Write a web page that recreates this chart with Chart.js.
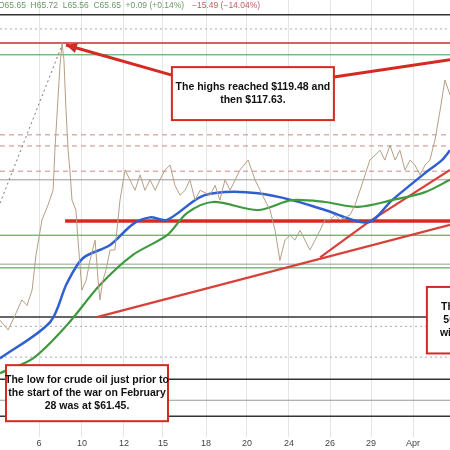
<!DOCTYPE html>
<html><head><meta charset="utf-8">
<script src="https://cdn.jsdelivr.net/npm/chart.js@4"></script>
<style>html,body{margin:0;padding:0;background:#fff}#wrap{width:450px;height:450px}</style>
</head><body><div id="wrap"><canvas id="c"></canvas></div>
<script>
// time axis in hourly-bar units, prices in USD
const tickPos = [13, 27.3, 41.3, 54.3, 68.7, 82.3, 96.3, 110, 123.7, 137.7]
const tickLabels = ['6', '10', '12', '15', '18', '20', '24', '26', '29', 'Apr']
const price = [[0,74.5],[2.7,72.9],[5,75.3],[7.3,77.8],[9,76.9],[10.7,79.4],[12,85.1],[14,90.8],[16,93.2],[17.7,95.6],[18.3,102.1],[19.3,110.3],[20,115.9],[20.7,119.5],[21.3,116.8],[22,108.6],[22.7,102.1],[23.3,98.9],[24,94],[25.3,92.4],[26,87.5],[27.3,79.4],[28.7,81],[30,84.2],[31.7,87.5],[32.7,81],[33.3,77.8],[34.3,81],[35.3,82.6],[36.7,85.9],[38.3,85.9],[40,94],[41.7,98.9],[43.3,97.3],[45,95.6],[46.7,98.1],[48.3,95.6],[50,97.3],[51.7,95.6],[53.3,97.3],[55,98.9],[56.7,99.7],[58.3,96.4],[60,94.8],[61.7,95.6],[63.3,97.3],[65,94],[66.7,95.6],[70,94.8],[71.7,96.4],[73.3,94],[75,97.3],[76.7,95.6],[80,98.9],[82.7,100.5],[85,97.3],[86.7,95.6],[88.3,94],[90,92.4],[91.7,89.1],[93.3,84.2],[95,87.5],[96.7,88.3],[98.3,87.5],[100,89.1],[103.3,85.9],[105,87.5],[106.7,89.1],[108.3,90.8],[110,90.8],[111.7,91.6],[113.3,90.8],[116.7,91.6],[118.3,93.2],[120,95.6],[123.3,100.5],[125,101.3],[126.7,102.1],[128.3,100.5],[130,102.9],[131.7,100.5],[133.3,102.1],[135,98.9],[136.7,100.5],[138.3,99.7],[140,98.1],[141.7,99.7],[143.3,100.5],[145,103.8],[146.7,108.6],[148.3,113.5],[150,111.1]]
const maBlue = [[0,68.3],[16.7,74.2],[22.3,80.5],[27.7,84.6],[36.7,86.7],[44.3,90.1],[50,91.2],[55.7,90.8],[66.7,94.5],[75,95.3],[86,95.1],[97.3,94.0],[108.3,92.4],[122.7,90.4],[130.7,94.0],[141.7,98.4],[147.3,100.5],[150,102.1]]
const maGreen = [[0,65.9],[11,68.3],[22.3,73.7],[33.3,80.2],[44.3,85.1],[55.7,88.3],[62.3,91.9],[71,93.7],[86,92.4],[97.3,94.0],[108.3,93.7],[119.3,92.9],[130.7,94.0],[141.7,95.3],[150,97.3]]
const trend1 = [[32.3,75.0],[150,90.0]]
const trend2 = [[106.7,84.7],[122.7,90.4],[150,98.9]]
const runUp = [[0,93.5],[20.7,119.2]]
const levels = [
  [124.1,'#333',1.5,[]],[121.8,'#aaa',1,[2,3]],[119.5,'#c0302a',1.5,[]],[117.6,'#3f9a3f',1,[]],
  [104.6,'#c88',1,[5,4]],[102.8,'#c88',1,[5,4]],[98.7,'#c88',1,[5,4]],[97.3,'#999',1,[]],
  [88.3,'#3f9a3f',1,[]],[83.6,'#999',1,[]],[83.0,'#3f9a3f',1,[]],[75.0,'#333',1.5,[]],
  [73.5,'#aaa',1,[2,3]],[68.5,'#aaa',1,[2,3]],[64.9,'#333',1.5,[]],[61.5,'#999',1,[]],[58.9,'#333',1.5,[]]
]
const keyLevel = [21.7, 150, 90.6]

const pts = a => a.map(([x, y]) => ({x, y}))
const line = (data, color, width, dash, tension) => ({type: 'line', data: pts(data), borderColor: color, borderWidth: width,
  borderDash: dash || [], pointRadius: 0, tension: tension === undefined ? 0.3 : tension, fill: false})

const notes = {
  id: 'notes',
  beforeDatasetsDraw(chart) {
    const {ctx, scales: {x, y}} = chart
    ctx.save()
    levels.forEach(([p, c, w, d]) => {
      ctx.strokeStyle = c; ctx.lineWidth = w; ctx.setLineDash(d)
      ctx.beginPath(); ctx.moveTo(x.left, y.getPixelForValue(p)); ctx.lineTo(x.right, y.getPixelForValue(p)); ctx.stroke()
    })
    ctx.setLineDash([])
    ctx.strokeStyle = '#d42a22'; ctx.lineWidth = 3.5
    const ky = y.getPixelForValue(keyLevel[2])
    ctx.beginPath(); ctx.moveTo(x.getPixelForValue(keyLevel[0]), ky); ctx.lineTo(x.getPixelForValue(keyLevel[1]), ky); ctx.stroke()
    ctx.restore()
  },
  afterDatasetsDraw(chart) {
    const {ctx, scales: {x, y}} = chart
    const X = v => x.getPixelForValue(v), Y = v => y.getPixelForValue(v)
    ctx.save()
    const arrow = (x0, y0, x1, y1, head) => {
      ctx.strokeStyle = '#d42a22'; ctx.fillStyle = '#d42a22'; ctx.lineWidth = 3
      ctx.beginPath(); ctx.moveTo(X(x0), Y(y0)); ctx.lineTo(X(x1), Y(y1)); ctx.stroke()
      if (head) {
        const a = Math.atan2(Y(y1) - Y(y0), X(x1) - X(x0))
        ctx.beginPath(); ctx.moveTo(X(x1), Y(y1))
        ctx.lineTo(X(x1) - 12 * Math.cos(a - 0.45), Y(y1) - 12 * Math.sin(a - 0.45))
        ctx.lineTo(X(x1) - 12 * Math.cos(a + 0.45), Y(y1) - 12 * Math.sin(a + 0.45))
        ctx.fill()
      }
    }
    arrow(57.3, 114.3, 22, 119.2, true)
    arrow(111.3, 114.0, 150, 116.8, false)
    const box = (t0, t1, p0, p1, lines, lh) => {
      const bx = X(t0), by = Y(p0), bw = X(t1) - bx, bh = Y(p1) - by
      ctx.fillStyle = '#fff'; ctx.fillRect(bx, by, bw, bh)
      ctx.strokeStyle = '#d42a22'; ctx.lineWidth = 2; ctx.strokeRect(bx, by, bw, bh)
      ctx.fillStyle = '#111'; ctx.font = 'bold 10.5px Arial, "Liberation Sans"'; ctx.textAlign = 'center'; ctx.textBaseline = 'middle'
      const cx = bx + bw / 2, cy = by + bh / 2 - (lines.length - 1) * lh / 2
      lines.forEach((s, i) => ctx.fillText(s, cx, cy + i * lh))
    }
    box(57.3, 111.3, 115.6, 107.0, ['The highs reached $119.48 and', 'then $117.63.'], 13)
    box(2, 56, 67.2, 58.1, ['The low for crude oil just prior to', 'the start of the war on February', '28 was at $61.45.'], 13)
    box(142.3, 158, 79.9, 69.1, ['The', '50\'', 'with'], 13)
    ctx.textAlign = 'left'; ctx.textBaseline = 'top'; ctx.font = '8.5px Arial, "Liberation Sans"'
    ctx.fillStyle = '#6a9a6a'; ctx.fillText('O65.65  H65.72  L65.56  C65.65  +0.09 (+0.14%)', -2, 1)
    ctx.fillStyle = '#c06060'; ctx.fillText('−15.49 (−14.04%)', 192, 1)
    ctx.restore()
  }
}

new Chart(document.getElementById('c'), {
  type: 'scatter',
  data: {datasets: [
    line(runUp, '#777', 1, [2, 3], 0),
    line(price, '#b59f86', 1, [], 0),
    line(maGreen, '#3f9a3f', 2.2),
    line(maBlue, '#2f5fd0', 2.5),
    line(trend1, '#d8413a', 2.2, [], 0),
    line(trend2, '#d8413a', 2.2, [], 0)
  ]},
  options: {
    responsive: true, maintainAspectRatio: false, animation: false,
    layout: {padding: 0},
    plugins: {legend: {display: false}, tooltip: {enabled: false}},
    scales: {
      x: {type: 'linear', min: 0, max: 150,
        afterBuildTicks: s => { s.ticks = tickPos.map(v => ({value: v})) },
        ticks: {callback: (v, i) => tickLabels[i], font: {size: 9}, color: '#444', padding: 1, maxRotation: 0, autoSkip: false},
        grid: {color: '#e4e4e4', drawTicks: false}, border: {display: false}},
      y: {display: false, min: 55.5, max: 126.5}
    }
  },
  plugins: [notes]
})
</script></body></html>
